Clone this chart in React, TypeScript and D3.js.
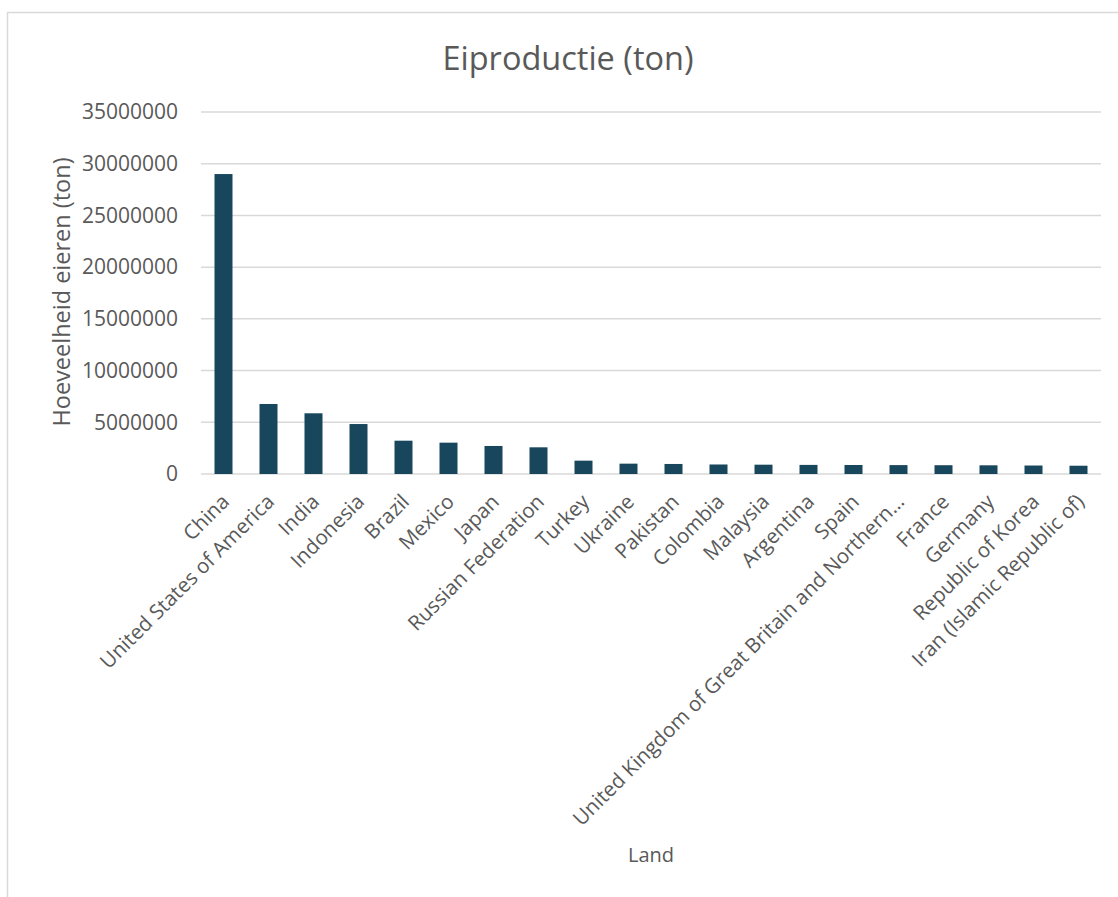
import React, { useEffect, useRef } from "react";
import * as d3 from "d3";

const landen = [
  "China",
  "United States of America",
  "India",
  "Indonesia",
  "Brazil",
  "Mexico",
  "Japan",
  "Russian Federation",
  "Turkey",
  "Ukraine",
  "Pakistan",
  "Colombia",
  "Malaysia",
  "Argentina",
  "Spain",
  "United Kingdom of Great Britain and Northern…",
  "France",
  "Germany",
  "Republic of Korea",
  "Iran (Islamic Republic of)",
];

const eieren = [
  29000000, 6770000, 5870000, 4830000, 3220000, 3030000, 2710000, 2580000,
  1290000, 1000000, 970000, 920000, 900000, 880000, 870000, 860000, 850000,
  840000, 820000, 800000,
];

const yTicks = [0, 5000000, 10000000, 15000000, 20000000, 25000000, 30000000, 35000000];

const W = 1118,
  H = 897;
const textColor = "#595959";
const gridColor = "#d9d9d9";
const barColor = "#18465c";
const font = "'Open Sans', 'Noto Sans', sans-serif";

export default function App() {
  const svgRef = useRef<SVGSVGElement>(null);

  useEffect(() => {
    const svg = d3.select(svgRef.current);
    svg.selectAll("*").remove();

    const plot = { left: 201, right: 1101, top: 112, bottom: 474 };

    const x = d3
      .scaleBand<string>()
      .domain(landen)
      .range([plot.left, plot.right])
      .paddingInner(0.6)
      .paddingOuter(0.3);
    const y = d3.scaleLinear().domain([0, 35000000]).range([plot.bottom, plot.top]);

    // chart frame (right + bottom edge fall outside the picture)
    svg
      .append("path")
      .attr("d", `M7.5,${H + 2} L7.5,12.5 L${W + 2},12.5`)
      .attr("fill", "none")
      .attr("stroke", gridColor)
      .attr("stroke-width", 1.5);

    svg
      .append("text")
      .attr("x", 568)
      .attr("y", 70)
      .attr("text-anchor", "middle")
      .attr("fill", textColor)
      .style("font-family", font)
      .style("font-size", "32.5px")
      .text("Eiproductie (ton)");

    // gridlines + y labels
    const yAxis = svg.append("g");
    yAxis
      .selectAll("line")
      .data(yTicks)
      .enter()
      .append("line")
      .attr("x1", plot.left)
      .attr("x2", plot.right)
      .attr("y1", (d) => y(d))
      .attr("y2", (d) => y(d))
      .attr("stroke", gridColor)
      .attr("stroke-width", 1.5);
    yAxis
      .selectAll("text")
      .data(yTicks)
      .enter()
      .append("text")
      .attr("x", plot.left - 23)
      .attr("y", (d) => y(d))
      .attr("dy", "0.35em")
      .attr("text-anchor", "end")
      .attr("fill", textColor)
      .style("font-family", font)
      .style("font-size", "21px")
      .text((d) => String(d));

    svg
      .append("g")
      .selectAll("rect")
      .data(eieren)
      .enter()
      .append("rect")
      .attr("x", (d, i) => x(landen[i])!)
      .attr("y", (d) => y(d))
      .attr("width", x.bandwidth())
      .attr("height", (d) => y(0) - y(d))
      .attr("fill", barColor);

    // category labels, rotated
    svg
      .append("g")
      .selectAll("text")
      .data(landen)
      .enter()
      .append("text")
      .attr("text-anchor", "end")
      .attr(
        "transform",
        (d) => `translate(${x(d)! + x.bandwidth() / 2 + 7},${plot.bottom + 29}) rotate(-45)`
      )
      .attr("fill", textColor)
      .style("font-family", font)
      .style("font-size", "20.5px")
      .text((d) => d);

    svg
      .append("text")
      .attr("transform", `translate(70,292) rotate(-90)`)
      .attr("text-anchor", "middle")
      .attr("fill", textColor)
      .style("font-family", font)
      .style("font-size", "23.5px")
      .text("Hoeveelheid eieren (ton)");

    svg
      .append("text")
      .attr("x", 651)
      .attr("y", 862)
      .attr("text-anchor", "middle")
      .attr("fill", textColor)
      .style("font-family", font)
      .style("font-size", "20px")
      .text("Land");
  }, []);

  return (
    <svg
      ref={svgRef}
      width={W}
      height={H}
      style={{ position: "absolute", left: 0, top: 0, background: "#fff" }}
    />
  );
}
